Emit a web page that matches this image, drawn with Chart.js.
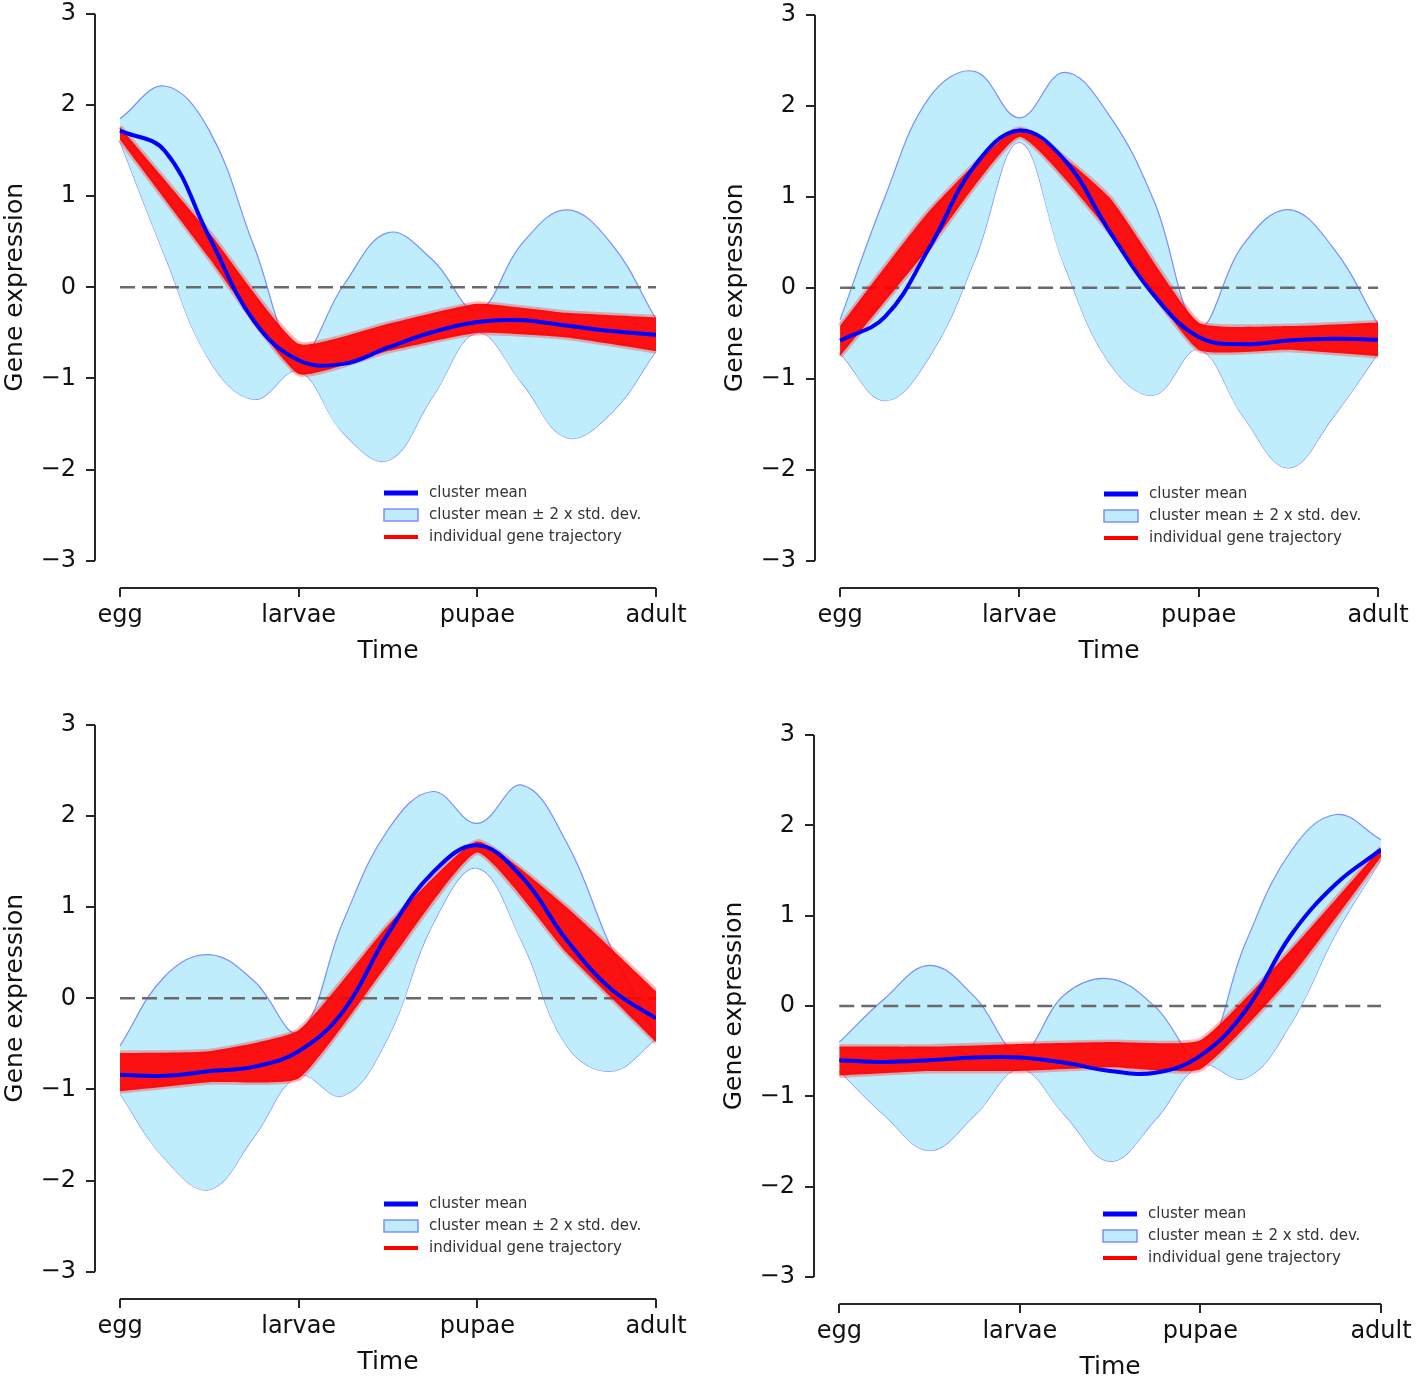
<!DOCTYPE html>
<html>
<head>
<meta charset="utf-8">
<script src="https://cdn.jsdelivr.net/npm/chart.js@4/dist/chart.umd.min.js"></script>
<style>
    body { margin: 0; background: #fff; width: 1418px; height: 1378px; position: relative; overflow: hidden; }
    canvas { position: absolute; }
</style>
</head>
<body>
<canvas id="panel1"></canvas>
<canvas id="panel2"></canvas>
<canvas id="panel3"></canvas>
<canvas id="panel4"></canvas>
<script>
// Axes
const timeLabels = ['egg', 'larvae', 'pupae', 'adult'];
const timePoints = [0, 1, 2, 3];
const yTicks = [-3, -2, -1, 0, 1, 2, 3];
const legendLabels = ['cluster mean', 'cluster mean \u00b1 2 x std. dev.', 'individual gene trajectory'];

const bandT = [0, 0.25, 0.5, 0.75, 1, 1.25, 1.5, 1.75, 2, 2.25, 2.5, 2.75, 3];
const redT = [0, 0.5, 1, 1.5, 2, 2.5, 3];

// Panel 1 (top left)
const p1Upper = [1.85, 2.21, 1.72, 0.45, -0.75, 0.02, 0.6, 0.3, -0.25, 0.48, 0.85, 0.48, -0.35];
const p1Lower = [1.6, 0.35, -0.8, -1.23, -0.92, -1.6, -1.9, -1.2, -0.5, -1.05, -1.65, -1.38, -0.7];
const p1Mean = [1.72, 1.5, 0.55, -0.37, -0.8, -0.84, -0.66, -0.49, -0.38, -0.36, -0.42, -0.48, -0.52];
const p1RedTop = [1.76, 0.6, -0.62, -0.4, -0.18, -0.28, -0.33];
const p1RedBot = [1.62, 0.32, -0.95, -0.7, -0.5, -0.55, -0.7];

// Panel 2 (top right)
const p2Upper = [-0.35, 1.0, 2.1, 2.38, 1.87, 2.37, 1.9, 0.96, -0.42, 0.48, 0.86, 0.44, -0.4];
const p2Lower = [-0.72, -1.24, -0.75, 0.3, 1.6, 0.25, -0.82, -1.18, -0.68, -1.42, -1.98, -1.42, -0.72];
const p2Mean = [-0.58, -0.32, 0.45, 1.34, 1.73, 1.41, 0.63, -0.08, -0.54, -0.62, -0.58, -0.56, -0.57];
const p2RedTop = [-0.42, 0.85, 1.75, 1.0, -0.38, -0.42, -0.38];
const p2RedBot = [-0.75, 0.45, 1.66, 0.62, -0.68, -0.68, -0.75];

// Panel 3 (bottom left)
const p3Upper = [-0.52, 0.24, 0.48, 0.19, -0.37, 0.85, 1.85, 2.27, 1.92, 2.34, 1.71, 0.55, -0.4];
const p3Lower = [-1.05, -1.76, -2.1, -1.52, -0.85, -1.07, -0.43, 0.81, 1.43, 0.62, -0.52, -0.8, -0.45];
const p3Mean = [-0.84, -0.85, -0.8, -0.75, -0.58, -0.14, 0.71, 1.38, 1.68, 1.33, 0.64, 0.1, -0.22];
const p3RedTop = [-0.6, -0.58, -0.35, 0.8, 1.72, 1.0, 0.08];
const p3RedBot = [-1.02, -0.92, -0.88, 0.38, 1.6, 0.5, -0.48];

// Panel 4 (bottom right)
const p4Upper = [-0.4, 0.08, 0.45, 0.1, -0.52, 0.13, 0.3, -0.01, -0.58, 0.7, 1.71, 2.12, 1.84];
const p4Lower = [-0.72, -1.21, -1.6, -1.21, -0.7, -1.21, -1.72, -1.26, -0.66, -0.8, -0.2, 0.8, 1.62];
const p4Mean = [-0.6, -0.62, -0.6, -0.57, -0.57, -0.63, -0.72, -0.74, -0.55, -0.05, 0.78, 1.35, 1.73];
const p4RedTop = [-0.45, -0.45, -0.42, -0.4, -0.38, 0.62, 1.75];
const p4RedBot = [-0.77, -0.72, -0.72, -0.68, -0.7, 0.32, 1.65];

// Layout: pixel position of egg / adult and of y = 3 / y = -3 for each panel
const FONT = '"DejaVu Sans", sans-serif';
const Y_AXIS_W = 95, X_AXIS_H = 100, PAD_T = 20, PAD_R = 55;
const X_MIN = -0.14, Y_MIN = -3.3;
const layout = [
    { id: 'panel1', x0: 120, x3: 656, yTop: 14, yBot: 561 },
    { id: 'panel2', x0: 840, x3: 1378, yTop: 15, yBot: 561 },
    { id: 'panel3', x0: 120, x3: 656, yTop: 725, yBot: 1272 },
    { id: 'panel4', x0: 839, x3: 1381, yTop: 735, yBot: 1277 }
];

const BAND_FILL = '#bfedfc';
const BAND_EDGE = 'rgba(105,125,255,0.85)';
const MEAN_BLUE = '#0000ff';
const AXIS_COL = '#262626';
const RED_EDGE = 'rgba(255,0,0,0.28)';

function pts(xs, ys) {
    return xs.map((x, i) => ({ x: x, y: ys[i] }));
}

function minusLabel(v) {
    return v < 0 ? '\u2212' + Math.abs(v) : String(v);
}

// Spines, axis titles and legend
const decorPlugin = {
    id: 'decor',
    afterDraw(chart) {
        const { ctx, chartArea, scales: { x, y } } = chart;
        ctx.save();
        ctx.strokeStyle = AXIS_COL;
        ctx.lineWidth = 2;
        ctx.beginPath();
        ctx.moveTo(chartArea.left, y.getPixelForValue(3));
        ctx.lineTo(chartArea.left, y.getPixelForValue(-3));
        ctx.moveTo(x.getPixelForValue(0), chartArea.bottom);
        ctx.lineTo(x.getPixelForValue(3), chartArea.bottom);
        ctx.stroke();

        ctx.fillStyle = '#111';
        ctx.font = '25px ' + FONT;
        ctx.textAlign = 'center';
        ctx.textBaseline = 'middle';
        ctx.fillText('Time', x.getPixelForValue(1.5), chartArea.bottom + 63);
        ctx.save();
        ctx.translate(chartArea.left - 80, y.getPixelForValue(0));
        ctx.rotate(-Math.PI / 2);
        ctx.fillText('Gene expression', 0, 0);
        ctx.restore();

        // legend
        const lx = chartArea.left + 289, ly = chartArea.top + 479, dy = 22;
        ctx.lineCap = 'butt';
        ctx.strokeStyle = MEAN_BLUE;
        ctx.lineWidth = 5;
        ctx.beginPath(); ctx.moveTo(lx, ly); ctx.lineTo(lx + 34, ly); ctx.stroke();
        ctx.fillStyle = BAND_FILL;
        ctx.fillRect(lx, ly + dy - 6, 34, 12);
        ctx.strokeStyle = BAND_EDGE;
        ctx.lineWidth = 1.5;
        ctx.strokeRect(lx, ly + dy - 6, 34, 12);
        ctx.strokeStyle = '#ff0000';
        ctx.lineWidth = 4;
        ctx.beginPath(); ctx.moveTo(lx, ly + 2 * dy); ctx.lineTo(lx + 34, ly + 2 * dy); ctx.stroke();
        ctx.fillStyle = '#333';
        ctx.font = '15px ' + FONT;
        ctx.textAlign = 'left';
        legendLabels.forEach((t, i) => ctx.fillText(t, lx + 45, ly + i * dy));
        ctx.restore();
    }
};

function makePanel(box, d) {
    const canvas = document.getElementById(box.id);
    const unitX = (box.x3 - box.x0) / 3;
    const unitY = (box.yBot - box.yTop) / 6;
    const areaLeft = Math.round(box.x0 + X_MIN * unitX);
    const areaBottom = Math.round(box.yBot + (-3 - Y_MIN) * unitY);
    canvas.width = Y_AXIS_W + (box.x3 - areaLeft) + PAD_R;
    canvas.height = PAD_T + (areaBottom - box.yTop) + X_AXIS_H;
    canvas.style.left = (areaLeft - Y_AXIS_W) + 'px';
    canvas.style.top = (box.yTop - PAD_T) + 'px';

    const smooth = { tension: 0.4 };
    const straightish = { tension: 0.15 };
    new Chart(canvas, {
        type: 'line',
        data: {
            datasets: [
                { data: pts(bandT, d.mean), borderColor: MEAN_BLUE, borderWidth: 4, ...smooth },
                { data: pts(redT, d.redTop), borderColor: RED_EDGE, borderWidth: 5,
                  backgroundColor: 'rgba(255,0,0,0.93)', fill: '+1', ...straightish },
                { data: pts(redT, d.redBot), borderColor: RED_EDGE, borderWidth: 5, ...straightish },
                { data: [{ x: 0, y: 0 }, { x: 3, y: 0 }], borderColor: '#6a6a6a', borderWidth: 2.5, borderDash: [15, 7] },
                { data: pts(bandT, d.upper), borderColor: BAND_EDGE, borderWidth: 1.2,
                  backgroundColor: BAND_FILL, fill: '+1', ...smooth },
                { data: pts(bandT, d.lower), borderColor: BAND_EDGE, borderWidth: 1.2, ...smooth }
            ]
        },
        options: {
            responsive: false,
            animation: false,
            events: [],
            elements: { point: { radius: 0 } },
            layout: { padding: { top: PAD_T, right: PAD_R, left: 0, bottom: 0 } },
            plugins: { legend: { display: false }, tooltip: { enabled: false } },
            scales: {
                x: {
                    type: 'linear', min: X_MIN, max: 3,
                    afterBuildTicks: s => { s.ticks = timePoints.map(v => ({ value: v })); },
                    afterFit: s => { s.height = X_AXIS_H; s.paddingLeft = 0; s.paddingRight = 0; },
                    ticks: {
                        callback: v => timeLabels[timePoints.indexOf(v)],
                        font: { family: FONT, size: 24 }, color: '#111',
                        padding: 4, maxRotation: 0, autoSkip: false
                    },
                    grid: { drawOnChartArea: false, tickLength: 9, color: AXIS_COL, lineWidth: 2 },
                    border: { display: false }
                },
                y: {
                    type: 'linear', min: Y_MIN, max: 3,
                    afterBuildTicks: s => { s.ticks = yTicks.map(v => ({ value: v })); },
                    afterFit: s => { s.width = Y_AXIS_W; s.paddingTop = 0; s.paddingBottom = 0; },
                    ticks: {
                        callback: v => minusLabel(v),
                        font: { family: FONT, size: 24 }, color: '#111',
                        padding: 10, autoSkip: false
                    },
                    grid: { drawOnChartArea: false, tickLength: 9, color: AXIS_COL, lineWidth: 2 },
                    border: { display: false }
                }
            }
        },
        plugins: [decorPlugin]
    });
}

makePanel(layout[0], { upper: p1Upper, lower: p1Lower, mean: p1Mean, redTop: p1RedTop, redBot: p1RedBot });
makePanel(layout[1], { upper: p2Upper, lower: p2Lower, mean: p2Mean, redTop: p2RedTop, redBot: p2RedBot });
makePanel(layout[2], { upper: p3Upper, lower: p3Lower, mean: p3Mean, redTop: p3RedTop, redBot: p3RedBot });
makePanel(layout[3], { upper: p4Upper, lower: p4Lower, mean: p4Mean, redTop: p4RedTop, redBot: p4RedBot });
</script>
</body>
</html>
